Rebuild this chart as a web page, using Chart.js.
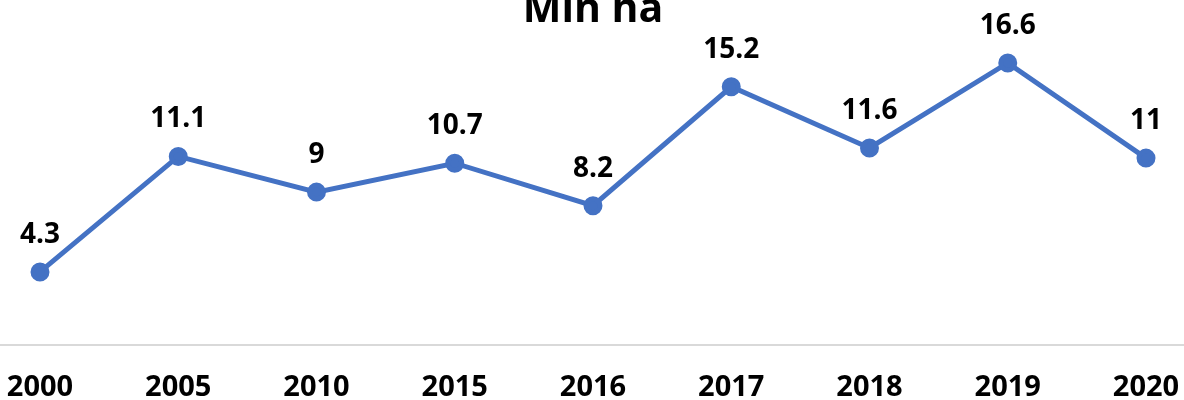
<!DOCTYPE html>
<html>
<head>
<meta charset="utf-8">
<script src="https://cdn.jsdelivr.net/npm/chart.js@4/dist/chart.umd.min.js"></script>
<style>
  html, body { margin: 0; padding: 0; background: #fff; overflow: hidden; }
  #wrap { position: absolute; left: 0; top: -20px; width: 1184px; height: 420px; }
</style>
</head>
<body>
<div id="wrap"><canvas id="lineChart"></canvas></div>
<script>
// chart data
const years = ["2000", "2005", "2010", "2015", "2016", "2017", "2018", "2019", "2020"];
const areaMln = [4.3, 11.1, 9, 10.7, 8.2, 15.2, 11.6, 16.6, 11];
const chartTitle = "Mln ha";

const blue = "#4472C4";

// axis line at zero runs the whole width of the plot box
const baseLine = {
    id: "baseLine",
    beforeDatasetsDraw(chart) {
        const ctx = chart.ctx;
        const y = Math.round(chart.scales.y.getPixelForValue(0));
        ctx.save();
        ctx.strokeStyle = "#d9d9d9";
        ctx.lineWidth = 2;
        ctx.beginPath();
        ctx.moveTo(0, y);
        ctx.lineTo(chart.width, y);
        ctx.stroke();
        ctx.restore();
    }
};

// draw the value above each point
const valueLabels = {
    id: "valueLabels",
    afterDatasetsDraw(chart) {
        const ctx = chart.ctx;
        const meta = chart.getDatasetMeta(0);
        ctx.save();
        ctx.font = "bold 28px 'Open Sans'";
        ctx.fillStyle = "#000";
        ctx.textAlign = "center";
        ctx.textBaseline = "middle";
        meta.data.forEach((pt, i) => {
            ctx.fillText(String(areaMln[i]), pt.x, pt.y - 37);
        });
        ctx.restore();
    }
};

new Chart(document.getElementById("lineChart"), {
    type: "line",
    data: {
        labels: years,
        datasets: [{
            data: areaMln,
            borderColor: blue,
            backgroundColor: blue,
            borderWidth: 5,
            pointRadius: 7,
            pointHoverRadius: 7,
            pointBackgroundColor: blue,
            pointBorderColor: blue,
            tension: 0
        }]
    },
    options: {
        responsive: true,
        maintainAspectRatio: false,
        animation: false,
        layout: { padding: { left: 40, right: 38, top: 0, bottom: 0 } },
        plugins: {
            legend: { display: false },
            tooltip: { enabled: false },
            title: {
                display: true,
                text: chartTitle,
                color: "#000",
                font: { family: "Open Sans", size: 41, weight: "bold", lineHeight: 1.2 },
                padding: { top: 6, bottom: 4 }
            }
        },
        scales: {
            x: {
                offset: false,
                grid: { display: false, drawTicks: false },
                border: { display: false },
                ticks: {
                    color: "#000",
                    padding: 25,
                    maxRotation: 0,
                    autoSkip: false,
                    font: { family: "Open Sans", size: 29, weight: "bold" }
                },
                afterFit(scale) {
                    scale.height = 55;
                    scale.paddingLeft = 0;
                    scale.paddingRight = 0;
                }
            },
            y: {
                display: false,
                min: 0,
                max: 18
            }
        }
    },
    plugins: [baseLine, valueLabels]
});
</script>
</body>
</html>
